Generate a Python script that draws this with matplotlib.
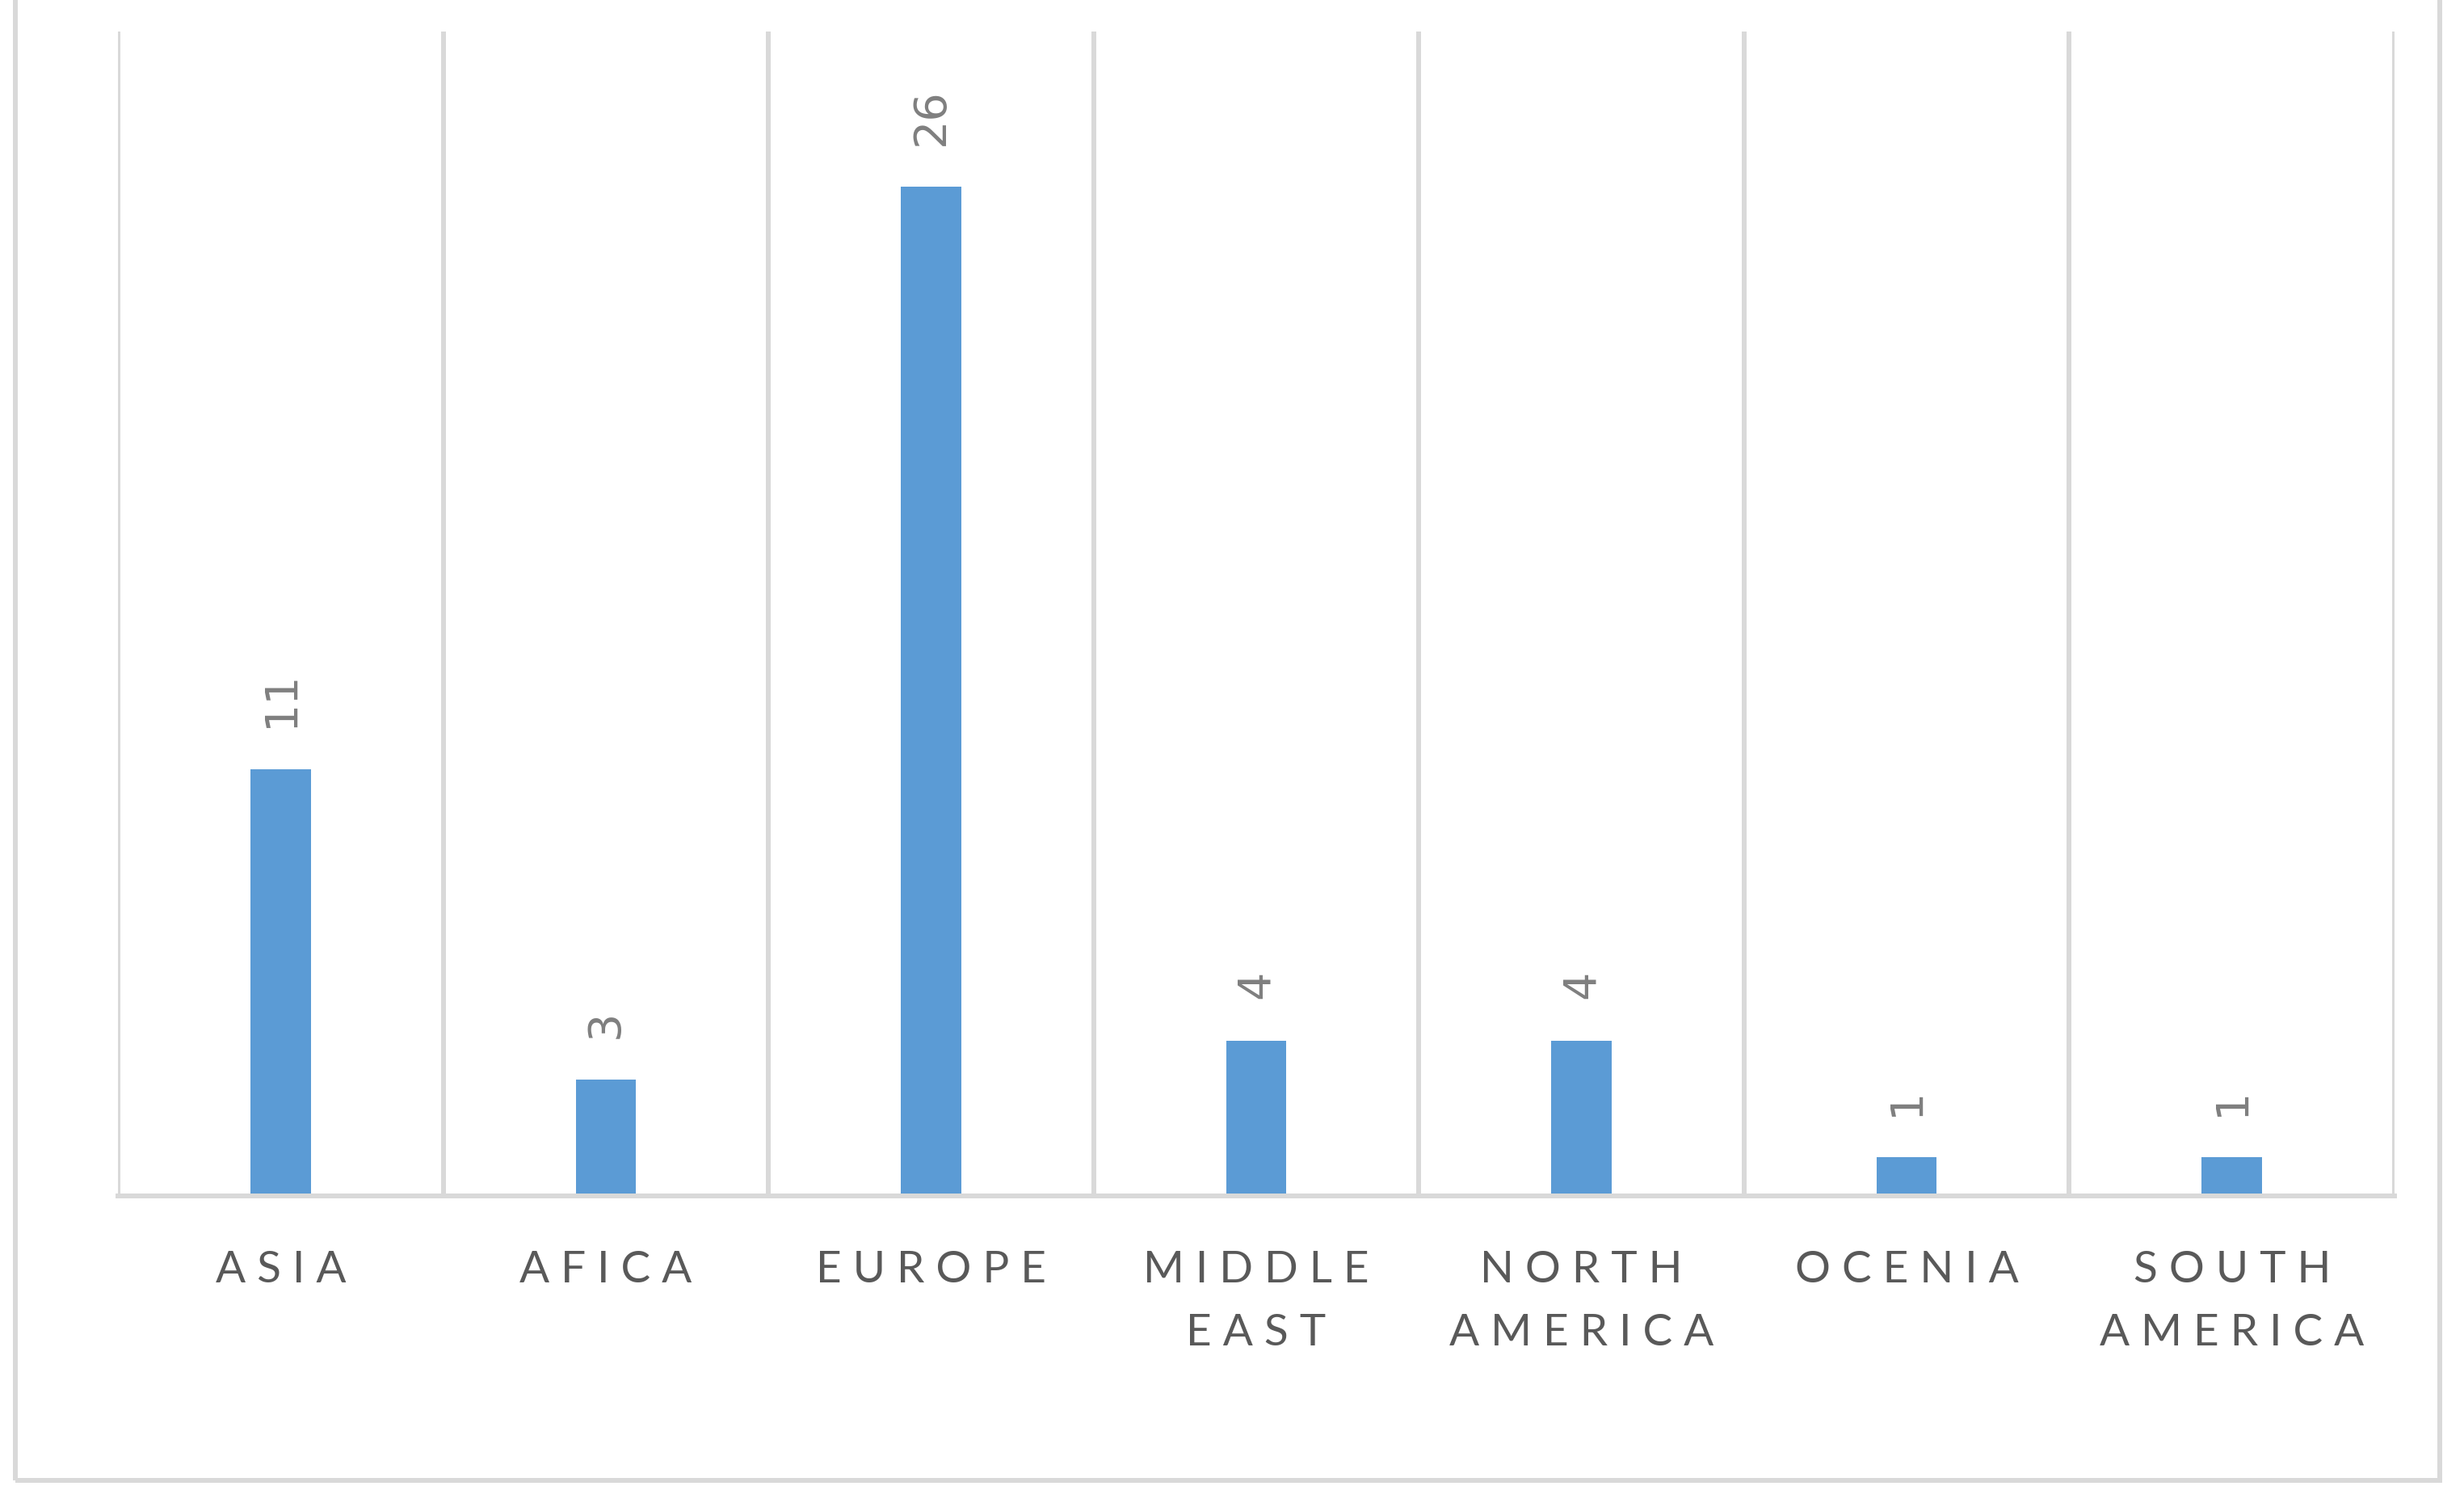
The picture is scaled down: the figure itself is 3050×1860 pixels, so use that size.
import matplotlib.pyplot as plt
import matplotlib.patches as mpatches
import numpy as np

plt.rcParams['font.family'] = ['Lato', 'DejaVu Sans']

regions = ["ASIA", "AFICA", "EUROPE", "MIDDLE\nEAST", "NORTH\nAMERICA", "OCENIA", "SOUTH\nAMERICA"]
counts = [11, 3, 26, 4, 4, 1, 1]

grid_col = "#d9d9d9"


def spaced(label):
    # wide letter spacing like the original
    return "\n".join(" ".join(word) for word in label.split("\n"))


fig = plt.figure(figsize=(30.5, 18.6), dpi=100)
ax = fig.add_axes([0.0479, 0.2043, 0.9239, 0.7747])

x = np.arange(len(regions))
ax.bar(x, counts, width=0.185, color="#5b9bd5", zorder=3)

for xi, v in zip(x, counts):
    ax.annotate(str(v), (xi, v), xytext=(0, 37), textcoords="offset points",
                rotation=90, ha="center", va="bottom", fontsize=40,
                color="#7f7f7f", family=["DejaVu Sans"])

for b in np.arange(-0.5, len(regions), 1.0):
    ax.axvline(b, color=grid_col, lw=4.3, zorder=1)

ax.set_xlim(-0.5, len(regions) - 0.5)
ax.set_ylim(0, 30)
ax.set_yticks([])
ax.set_xticks(x)
ax.set_xticklabels([spaced(r) for r in regions], fontsize=39.5, color="#595959",
                   linespacing=1.73)
ax.tick_params(axis="x", length=0, pad=48)
for s in ["top", "left", "right"]:
    ax.spines[s].set_visible(False)
ax.spines["bottom"].set_color(grid_col)
ax.spines["bottom"].set_linewidth(4.3)
ax.spines["bottom"].set_zorder(4)

# outer chart frame (top edge falls outside the picture)
fig.patches.append(mpatches.Rectangle((19 / 3050, 1 - 1832 / 1860), 3001 / 3050, 1.0,
                                      transform=fig.transFigure, fill=False,
                                      edgecolor=grid_col, lw=4.3))

plt.savefig("out.png", dpi=100)
plt.close('all')
